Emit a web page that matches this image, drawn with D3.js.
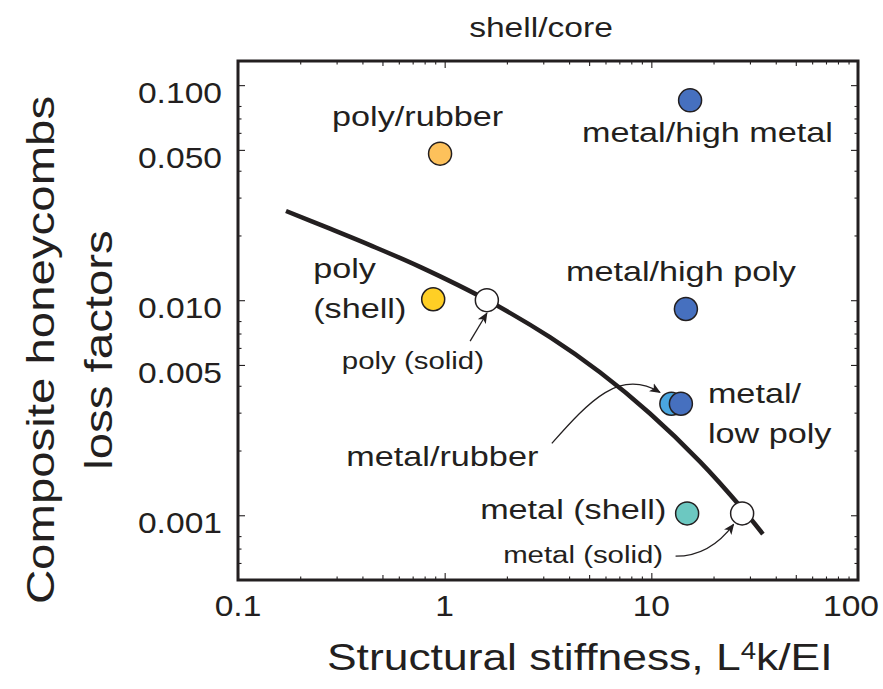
<!DOCTYPE html>
<html>
<head>
<meta charset="utf-8">
<script src="https://cdn.jsdelivr.net/npm/d3@7"></script>
<style>
  body { margin: 0; background: #fff; }
  svg { display: block; }
  text { font-family: "Liberation Sans", Arial, Helvetica, sans-serif; fill: #231f20; }
</style>
</head>
<body>
<svg id="chart" width="883" height="689"></svg>
<script>
// ---- data ---------------------------------------------------------------
const xTickValues = [0.1, 1, 10, 100];
const xTickLabels = ["0.1", "1", "10", "100"];
const yTickValues = [0.001, 0.005, 0.01, 0.05, 0.1];
const yTickLabels = ["0.001", "0.005", "0.010", "0.050", "0.100"];

const pointNames = ["poly/rubber", "metal/high metal", "poly (shell)", "poly (solid)",
                    "metal/high poly", "metal/rubber", "metal/low poly",
                    "metal (shell)", "metal (solid)"];
const stiffness  = [0.95, 15.4, 0.88, 1.6, 14.7, 12.5, 13.9, 14.9, 27.5];
const lossFactor = [0.048, 0.085, 0.0101, 0.0100, 0.0091, 0.0033, 0.0033, 0.00102, 0.00102];
const pointColors = ["#fdc15b", "#4670bf", "#ffcf25", "#ffffff",
                     "#4670bf", "#4aa6df", "#4670bf", "#6cc8c1", "#ffffff"];

// bound curve of solid materials
const curveStiffness = [0.1707, 0.2787, 0.4351, 0.7596, 1.602, 3.231, 5.640, 9.845, 17.19, 27.44, 34.66];
const curveLoss      = [0.02599, 0.02150, 0.01804, 0.01429, 0.01002, 0.00673, 0.00462, 0.002973, 0.001777, 0.001078, 0.000818];

// ---- layout -------------------------------------------------------------
const W = 883, H = 689;
const plot = { left: 238, right: 858, top: 61, bottom: 580 };
const STRETCH = 1.2;          // wide lettering used throughout the figure
const INK = "#231f20";

const svg = d3.select("#chart");
const x = d3.scaleLog().domain([0.1, 100]).range([plot.left, plot.right]);
const y = d3.scaleLog().domain([0.0005, 0.1295]).range([plot.bottom, plot.top]);

function label(g, str, px, py, size, anchor = "start", stretch = STRETCH, rotate = 0) {
  return g.append("text")
    .attr("transform", `translate(${px},${py})` + (rotate ? ` rotate(${rotate})` : "") + ` scale(${stretch},1)`)
    .attr("font-size", size)
    .attr("text-anchor", anchor)
    .text(str);
}

// ---- ticks --------------------------------------------------------------
const decades = [0.0001, 0.001, 0.01, 0.1, 1, 10];
const xMinor = decades.flatMap(d => [2, 3, 4, 6, 7, 8, 9].map(m => d * m))
  .filter(v => v > 0.1 && v < 100);
const xMid = decades.map(d => d * 5).filter(v => v > 0.1 && v < 100);
const yMinor = decades.flatMap(d => [2, 3, 4, 6, 7, 8].map(m => d * m))
  .filter(v => v > 0.0005 && v < 0.1295);

function drawAxis(axisFn, scale, values, size, transform) {
  const g = svg.append("g").attr("transform", transform)
    .call(axisFn(scale).tickValues(values).tickSize(-size).tickFormat(""));
  g.select(".domain").remove();
  g.selectAll(".tick line").attr("stroke", INK).attr("stroke-width", 1.1);
}
drawAxis(d3.axisBottom, x, xTickValues, 7, `translate(0,${plot.bottom})`);
drawAxis(d3.axisBottom, x, xMid, 5, `translate(0,${plot.bottom})`);
drawAxis(d3.axisBottom, x, xMinor, 3.5, `translate(0,${plot.bottom})`);
drawAxis(d3.axisTop, x, xTickValues, 7, `translate(0,${plot.top})`);
drawAxis(d3.axisTop, x, xMid, 5, `translate(0,${plot.top})`);
drawAxis(d3.axisTop, x, xMinor, 3.5, `translate(0,${plot.top})`);
drawAxis(d3.axisLeft, y, yTickValues, 7, `translate(${plot.left},0)`);
drawAxis(d3.axisLeft, y, yMinor, 3.5, `translate(${plot.left},0)`);
drawAxis(d3.axisRight, y, yTickValues, 7, `translate(${plot.right},0)`);
drawAxis(d3.axisRight, y, yMinor, 3.5, `translate(${plot.right},0)`);

// frame
svg.append("rect")
  .attr("x", plot.left).attr("y", plot.top)
  .attr("width", plot.right - plot.left).attr("height", plot.bottom - plot.top)
  .attr("fill", "none").attr("stroke", INK).attr("stroke-width", 3);

// tick labels (the last x label is pulled inside the page edge)
const tl = svg.append("g");
xTickValues.forEach((v, i) => {
  const t = label(tl, xTickLabels[i], x(v), 616, 30, "middle", 1.12);
  const b = t.node().getBoundingClientRect();
  if (b.right > W - 4) {
    t.attr("transform", `translate(${x(v) - (b.right - (W - 4))},616) scale(1.12,1)`);
  }
});
yTickValues.forEach((v, i) => label(tl, yTickLabels[i], 222, y(v) + 18, 30, "end", 1.12));

// ---- titles -------------------------------------------------------------
label(svg, "shell/core", 541, 37, 28, "middle");

const xt = svg.append("text")
  .attr("transform", `translate(327,670) scale(${STRETCH},1)`)
  .attr("font-size", 37);
xt.append("tspan").text("Structural stiffness, L");
xt.append("tspan").attr("font-size", 23).attr("dy", -11).text("4");
xt.append("tspan").attr("dy", 11).text("k/EI");

label(svg, "Composite honeycombs", 54, 350, 39.5, "middle", STRETCH, -90);
label(svg, "loss factors", 112, 350, 39.5, "middle", STRETCH, -90);

// ---- curve ----------------------------------------------------------------
const curvePts = curveStiffness.map((v, i) => [v, curveLoss[i]]);
svg.append("path")
  .attr("d", d3.line().x(d => x(d[0])).y(d => y(d[1])).curve(d3.curveCatmullRom.alpha(0.5))(curvePts))
  .attr("fill", "none").attr("stroke", INK).attr("stroke-width", 4.5);

// ---- annotation arrows (stiffness/loss coordinates) -----------------------
const defs = svg.append("defs");
defs.append("marker")
  .attr("id", "head").attr("viewBox", "0 0 10 10")
  .attr("refX", 9).attr("refY", 5)
  .attr("markerWidth", 11).attr("markerHeight", 11)
  .attr("markerUnits", "userSpaceOnUse").attr("orient", "auto")
  .append("path").attr("d", "M0,0.8 L10,5 L0,9.2 L2.5,5 Z").attr("fill", INK);

const arrowSolidPoly  = [[1.328, 0.00645], [1.60, 0.0087]];
const arrowRubber     = [[3.30, 0.00216], [5.06, 0.00343], [7.04, 0.00483], [11.0, 0.00373]];
const arrowSolidMetal = [[13.1, 0.000645], [17.8, 0.000645], [21.9, 0.000765], [25.0, 0.000908]];

function arrowPath(pts) {
  const p = pts.map(d => [x(d[0]), y(d[1])]);
  if (p.length === 2) return `M${p[0]}L${p[1]}`;
  return `M${p[0]}C${p[1]} ${p[2]} ${p[3]}`;
}
[arrowSolidPoly, arrowRubber, arrowSolidMetal].forEach(a =>
  svg.append("path").attr("d", arrowPath(a))
    .attr("fill", "none").attr("stroke", INK).attr("stroke-width", 1.3)
    .attr("marker-end", "url(#head)"));

// ---- points -------------------------------------------------------------
const pts = pointNames.map((n, i) => ({ name: n, sx: stiffness[i], ly: lossFactor[i], color: pointColors[i] }));
svg.append("g").selectAll("circle").data(pts).join("circle")
  .attr("cx", d => x(d.sx)).attr("cy", d => y(d.ly)).attr("r", 11.5)
  .attr("fill", d => d.color).attr("stroke", INK).attr("stroke-width", 1.5);

// ---- point labels (offsets from each point, px) -------------------------
const labelLayout = {
  "poly/rubber":      [{ t: "poly/rubber", dx: -108, dy: -28 }],
  "metal/high metal": [{ t: "metal/high metal", dx: -108, dy: 42 }],
  "poly (shell)":     [{ t: "poly", dx: -120, dy: -21 }, { t: "(shell)", dx: -120, dy: 19 }],
  "poly (solid)":     [{ t: "poly (solid)", dx: -145, dy: 69, small: true }],
  "metal/high poly":  [{ t: "metal/high poly", dx: -120, dy: -28 }],
  "metal/rubber":     [{ t: "metal/rubber", dx: -325, dy: 62 }],
  "metal/low poly":   [{ t: "metal/", dx: 27, dy: -1 }, { t: "low poly", dx: 27, dy: 39 }],
  "metal (shell)":    [{ t: "metal (shell)", dx: -207, dy: 6 }],
  "metal (solid)":    [{ t: "metal (solid)", dx: -239, dy: 50, small: true }]
};
const lg = svg.append("g");
pts.forEach(p => {
  (labelLayout[p.name] || []).forEach(l =>
    label(lg, l.t, x(p.sx) + l.dx, y(p.ly) + l.dy, l.small ? 24.5 : 28.5));
});
</script>
</body>
</html>
